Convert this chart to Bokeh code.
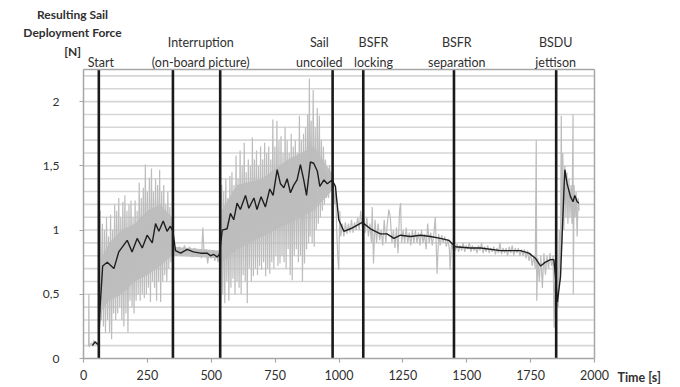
from bokeh.plotting import figure
from bokeh.models import Range1d, Label, FixedTicker, LinearAxis
from bokeh.embed import file_html
from bokeh.resources import INLINE

# ---------------- data ----------------
# raw measured force (grey, noisy trace)
raw_t = [20, 21, 22, 30, 35, 40, 45, 50, 55, 58,
         62, 66, 70, 74, 78, 82, 86, 90, 94, 98, 102, 106, 110, 114, 118, 122, 126, 130, 134, 138,
         142, 146, 150, 154, 158, 162, 166, 170, 174, 178, 182, 186, 190, 194, 198, 202, 206, 210,
         214, 218, 222, 226, 230, 234, 238, 242, 246, 250, 254, 258, 262, 266, 270, 274, 278, 282,
         286, 290, 294, 298, 302, 306, 310, 314, 318, 322, 326, 330, 334, 338, 342, 346, 350,
         355, 365, 375, 385, 395, 405, 415, 425, 435, 445, 455, 462, 467, 472, 480, 486, 492, 500,
         508, 514, 520, 526, 532,
         537, 541, 545, 549, 553, 557, 561, 565, 569, 573, 577, 581, 585, 589, 593, 597, 601, 605,
         609, 613, 617, 621, 625, 629, 633, 637, 641, 645, 649, 653, 657, 661, 665, 669, 673, 677,
         681, 685, 689, 693, 697, 701, 705, 709, 713, 717, 721, 725, 729, 733, 737, 741, 745, 749,
         753, 757, 761, 765, 769, 773, 777, 781, 785, 789, 793, 797, 801, 805, 809, 813, 817, 821,
         825, 829, 833, 837, 841, 845, 849, 853, 857, 861, 865, 869, 873, 877, 881, 884, 887, 891,
         895, 899, 903, 907, 911, 915, 919, 923, 927, 931, 935, 939, 943, 947, 951, 955, 959, 963,
         967, 971, 975,
         979, 983, 987, 991, 995, 999, 1003, 1007, 1013, 1019, 1025, 1031, 1037, 1043, 1049, 1055,
         1061, 1067, 1073, 1079, 1085, 1091, 1097,
         1103, 1109, 1115, 1121, 1127, 1130, 1135, 1141, 1147, 1153, 1159, 1165, 1171, 1177, 1183,
         1189, 1195, 1201, 1207, 1213, 1219, 1225, 1231, 1237, 1241, 1245, 1251, 1257, 1263, 1269,
         1275, 1281, 1287, 1293, 1299, 1305, 1311, 1317, 1323, 1329, 1335, 1341, 1347, 1353, 1359,
         1365, 1371, 1377, 1384, 1390, 1396, 1402, 1408, 1414, 1420, 1426, 1432, 1435, 1440, 1446,
         1450,
         1456, 1462, 1468, 1474, 1480, 1486, 1492, 1498, 1504, 1510, 1516, 1522, 1528, 1534, 1540,
         1546, 1552, 1558, 1564, 1570, 1576, 1582, 1588, 1594, 1600, 1606, 1612, 1618, 1624, 1630,
         1636, 1642, 1648, 1654, 1660, 1666, 1672, 1678, 1684, 1690, 1696, 1702, 1708, 1714, 1720,
         1726, 1732, 1738, 1744, 1750, 1756, 1762, 1768, 1772, 1774, 1778, 1784, 1790, 1796, 1802,
         1808, 1814, 1820, 1826, 1832, 1838, 1842, 1846,
         1850, 1854, 1858, 1862, 1866, 1870, 1873, 1876, 1880, 1884, 1888, 1892, 1896, 1900, 1904,
         1908, 1912, 1916, 1917, 1920, 1924, 1928, 1932, 1936, 1940]
raw_f = [0.10, 0.50, 0.09, 0.12, 0.10, 0.14, 0.11, 0.13, 0.10, 0.12,
         0.15, 1.15, 0.30, 1.05, 0.25, 1.00, 0.20, 1.10, 0.30, 0.95, 0.20, 1.12, 0.15, 1.00, 0.35, 1.20, 0.30, 1.15, 0.35, 1.25,
         0.40, 1.10, 0.30, 1.22, 0.25, 1.27, 0.35, 1.15, 0.20, 1.20, 0.45, 1.23, 0.40, 1.10, 0.35, 1.23, 0.45, 1.15,
         0.50, 1.37, 0.45, 1.25, 0.50, 1.33, 0.47, 1.51, 0.50, 1.30, 0.55, 1.41, 0.44, 1.48, 0.60, 1.30, 0.55, 1.40,
         0.45, 1.35, 0.60, 1.47, 0.44, 1.30, 0.60, 1.35, 0.65, 1.20, 0.60, 1.30, 0.70, 1.18, 0.75, 1.05, 0.80,
         0.86, 0.80, 0.87, 0.80, 0.88, 0.82, 0.87, 0.79, 0.86, 0.80, 0.85, 0.78, 1.02, 0.80, 0.85, 0.74, 0.84, 0.78,
         0.84, 0.76, 0.83, 0.75, 0.83,
         0.45, 1.35, 0.50, 1.30, 0.43, 1.40, 0.60, 1.25, 0.45, 1.42, 0.55, 1.45, 0.62, 1.35, 0.50, 1.58, 0.60, 1.40,
         0.55, 1.62, 0.50, 1.50, 0.65, 1.68, 0.60, 1.45, 0.43, 1.55, 0.70, 1.50, 0.60, 1.72, 0.64, 1.55, 0.70, 1.62,
         0.65, 1.50, 0.72, 1.65, 0.69, 1.55, 0.75, 1.68, 0.64, 1.60, 0.70, 1.65, 0.66, 1.55, 0.75, 1.86, 0.70, 1.65,
         0.80, 1.85, 0.72, 1.70, 0.74, 1.73, 0.80, 1.60, 0.75, 1.80, 0.70, 1.70, 0.85, 1.60, 0.65, 1.75, 0.61, 1.65,
         0.80, 1.70, 0.85, 1.60, 0.75, 1.89, 0.80, 1.70, 0.60, 1.75, 0.74, 1.80, 0.85, 1.90, 0.90, 2.18, 0.95, 1.85,
         0.90, 2.09, 0.87, 1.80, 1.00, 1.95, 1.05, 1.89, 1.10, 1.70, 1.15, 1.65, 1.20, 1.55, 1.25, 1.45, 1.25, 1.50,
         1.30, 1.45, 1.30,
         1.35, 1.20, 1.30, 1.00, 0.80, 0.69, 1.15, 0.95, 1.05, 0.95, 1.06, 0.97, 1.05, 0.98, 1.08, 0.98,
         1.06, 1.00, 1.10, 1.00, 1.15, 1.02, 1.10,
         0.98, 1.10, 0.95, 1.05, 0.90, 1.18, 0.74, 1.08, 0.90, 1.05, 0.92, 1.00, 0.88, 1.08, 0.90,
         1.05, 1.16, 1.10, 0.90, 1.00, 0.86, 1.02, 0.82, 1.15, 1.21, 0.90, 1.00, 0.90, 1.02, 0.90,
         0.98, 0.88, 1.00, 0.90, 1.00, 0.90, 0.98, 0.88, 1.00, 0.90, 0.97, 0.85, 1.05, 0.90, 0.98,
         0.88, 0.97, 1.10, 0.66, 0.97, 0.88, 0.96, 0.90, 0.95, 0.87, 0.93, 0.85, 0.69, 0.90, 0.85,
         0.88,
         0.84, 0.89, 0.83, 0.88, 0.84, 0.90, 0.83, 0.88, 0.85, 0.90, 0.83, 0.88, 0.84, 0.87, 0.82,
         0.88, 0.84, 0.90, 0.82, 0.87, 0.83, 0.88, 0.82, 0.86, 0.83, 0.87, 0.81, 0.86, 0.82, 0.90,
         0.81, 0.86, 0.82, 0.86, 0.80, 0.87, 0.82, 0.88, 0.80, 0.86, 0.82, 0.86, 0.80, 0.85, 0.80,
         0.85, 0.78, 0.84, 0.76, 0.82, 0.72, 0.80, 0.70, 1.70, 0.45, 0.78, 0.60, 0.80, 0.55, 0.82,
         0.65, 0.80, 0.70, 0.82, 0.72, 0.80, 0.24, 0.75,
         0.30, 0.50, 0.40, 1.00, 0.60, 1.89, 0.90, 1.60, 1.00, 1.50, 1.10, 1.45, 1.05, 1.40, 1.10,
         1.35, 1.05, 1.90, 0.50, 1.35, 1.10, 1.30, 0.95, 1.25, 1.15]

# dense core of the grey trace (where it looks solid)
core_t = [62, 100, 150, 200, 250, 300, 345, 352, 530, 540, 600, 700, 800, 900, 970]
core_lo = [0.35, 0.45, 0.50, 0.60, 0.65, 0.72, 0.80, 0.80, 0.78, 0.75, 0.85, 0.95, 1.05, 1.15, 1.30]
core_hi = [0.75, 0.90, 1.00, 1.05, 1.15, 1.20, 1.10, 0.87, 0.84, 1.15, 1.35, 1.40, 1.55, 1.65, 1.45]

# moving average (black line)
avg_t = [35, 45, 55, 60, 65, 75, 93, 119, 138, 171, 190, 210, 230, 249, 269, 282, 295, 312, 327, 340, 350,
         360, 380, 406, 430, 458, 484, 497, 510, 523, 532,
         543, 562, 575, 588, 601, 614, 634, 647, 667, 679, 695, 712, 729, 742, 758, 771, 784, 797, 810,
         823, 836, 849, 862, 873, 888, 901, 915, 925, 941, 954, 973, 986,
         999, 1019, 1045, 1091, 1123, 1162, 1188, 1215, 1241, 1280, 1319, 1358, 1397, 1430, 1450,
         1456, 1515, 1554, 1632, 1710, 1743, 1769, 1789, 1808, 1828, 1841, 1847, 1855, 1867, 1880,
         1884, 1893, 1906, 1916, 1923, 1932, 1939]
avg_f = [0.10, 0.13, 0.11, 0.12, 0.40, 0.72, 0.75, 0.70, 0.83, 0.92, 0.83, 0.935, 0.86, 0.96, 0.90, 1.05, 0.99, 1.07, 0.99, 1.03, 0.99,
         0.84, 0.82, 0.85, 0.83, 0.82, 0.82, 0.80, 0.81, 0.79, 0.81,
         1.00, 1.01, 1.13, 1.08, 1.21, 1.16, 1.27, 1.17, 1.25, 1.16, 1.26, 1.18, 1.32, 1.27, 1.47, 1.36, 1.33, 1.40, 1.29,
         1.35, 1.39, 1.51, 1.39, 1.27, 1.53, 1.52, 1.46, 1.34, 1.39, 1.36, 1.39, 1.34,
         1.08, 0.99, 1.01, 1.06, 1.01, 0.97, 0.97, 0.935, 0.96, 0.95, 0.96, 0.95, 0.935, 0.92, 0.88,
         0.87, 0.86, 0.86, 0.84, 0.84, 0.82, 0.78, 0.72, 0.75, 0.77, 0.77, 0.64, 0.44, 0.64, 1.29,
         1.47, 1.36, 1.26, 1.22, 1.27, 1.22, 1.21]

# events and their captions (caption rows: 0 = lower line, 1 = upper line)
event_t = [60, 350, 535, 975, 1095, 1450, 1850]
event_label_text = ["Start", "Interruption", "(on-board picture)", "Sail", "uncoiled",
                    "BSFR", "locking", "BSFR", "separation", "BSDU", "jettison"]
event_label_x = [68, 459, 459, 923, 923, 1135, 1135, 1461, 1461, 1848, 1848]
event_label_row = [0, 1, 0, 1, 0, 1, 0, 1, 0, 1, 0]

y_title_lines = ["Resulting Sail", "Deployment Force", "[N]"]
x_title = "Time [s]"

x_min, x_max = 0, 2000
y_min, y_max = 0, 2.25
y_ticks = [0, 0.5, 1, 1.5, 2]
y_tick_labels = ["0", "0,5", "1", "1,5", "2"]
x_ticks = [0, 250, 500, 750, 1000, 1250, 1500, 1750, 2000]
grid_step = 0.1

FONT = "Lato"
TXT = "#303030"
AX = "#a6a6a6"

# ---------------- figure (frame covers the whole canvas; axes are pinned) ----------------
W, H = 680, 387
left_px, right_px, top_px, bottom_px = 83, 594, 69, 358   # plot box inside the canvas
kx = (right_px - left_px) / (x_max - x_min)
ky = (bottom_px - top_px) / (y_max - y_min)
xr = Range1d(x_min - left_px / kx, x_max + (W - right_px) / kx)
yr = Range1d(y_min - (H - bottom_px) / ky, y_max + top_px / ky)

p = figure(width=W, height=H, output_backend="svg", toolbar_location=None,
           x_range=xr, y_range=yr, x_axis_type=None, y_axis_type=None,
           min_border=0, min_border_left=0, min_border_right=0,
           min_border_top=0, min_border_bottom=0)
p.outline_line_color = None
p.grid.grid_line_color = None
p.background_fill_color = "white"
p.border_fill_color = "white"

# horizontal grid lines every 0.1
n_grid = int(round((y_max - y_min) / grid_step))
grid_levels = [round(y_min + grid_step * i, 2) for i in range(1, n_grid + 1) if y_min + grid_step * i < y_max - 1e-9]
p.segment(x0=[x_min] * len(grid_levels), x1=[x_max] * len(grid_levels), y0=grid_levels, y1=grid_levels,
          line_color="#d6d6d6", line_width=1.6)

# data
p.varea(x=core_t, y1=core_lo, y2=core_hi, fill_color="#c2c2c2")
p.line(raw_t, raw_f, line_color="#bdbdbd", line_width=1.2)
p.line(avg_t, avg_f, line_color="#1f1f1f", line_width=1.4)

# event lines
p.segment(x0=event_t, x1=event_t, y0=[y_min] * len(event_t), y1=[y_max] * len(event_t),
          line_color="#1a1a1a", line_width=2.6)

# axes pinned to the plot box
def style_axis(ax):
    ax.axis_line_color = AX
    ax.axis_line_width = 1.5
    ax.major_tick_line_color = AX
    ax.major_tick_line_width = 1.2
    ax.major_tick_in = 0
    ax.major_tick_out = 4
    ax.minor_tick_line_color = None
    ax.major_label_text_font = FONT
    ax.major_label_text_font_size = "12.5px"
    ax.major_label_text_color = TXT

xa = LinearAxis(fixed_location=y_min, bounds=(x_min, x_max), ticker=FixedTicker(ticks=x_ticks))
style_axis(xa)
xa.major_label_standoff = 7
p.add_layout(xa, "below")

ya = LinearAxis(fixed_location=x_min, bounds=(y_min, y_max), ticker=FixedTicker(ticks=y_ticks))
ya.major_label_overrides = {t: l for t, l in zip(y_ticks, y_tick_labels)}
style_axis(ya)
ya.major_label_text_font_size = "12px"
ya.major_label_standoff = 20
p.add_layout(ya, "left")

ta = LinearAxis(fixed_location=y_max, bounds=(x_min, x_max), ticker=FixedTicker(ticks=[]))
style_axis(ta)
ta.major_label_text_font_size = "0px"
p.add_layout(ta, "above")

ra = LinearAxis(fixed_location=x_max, bounds=(y_min, y_max), ticker=FixedTicker(ticks=[]))
style_axis(ra)
ra.major_label_text_font_size = "0px"
p.add_layout(ra, "right")

# event captions above the plot box
for x, row, txt in zip(event_label_x, event_label_row, event_label_text):
    p.add_layout(Label(x=x, y=y_max + 0.052 + 0.155 * row, text=txt, text_font=FONT,
                       text_font_size="12.5px", text_color=TXT, text_align="center",
                       text_baseline="alphabetic"))

# axis titles
for i, txt in enumerate(y_title_lines):
    p.add_layout(Label(x=-43, y=2.68 - 0.145 * i, text=txt, text_font=FONT, text_font_size="12px",
                       text_font_style="bold", text_color=TXT, text_align="center",
                       text_baseline="middle"))
p.add_layout(Label(x=2090, y=-0.15, text=x_title, text_font=FONT, text_font_size="12.5px",
                   text_font_style="bold", text_color=TXT, text_align="left",
                   text_baseline="middle"))

open("out.html", "w").write(file_html(p, INLINE))
